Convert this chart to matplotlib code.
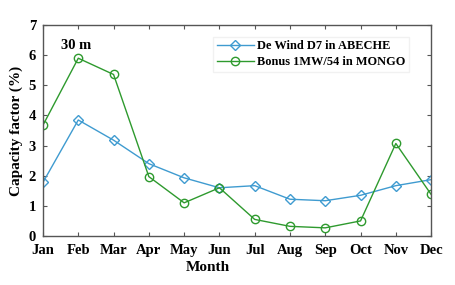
import matplotlib.pyplot as plt

months = ['Jan', 'Feb', 'Mar', 'Apr', 'May', 'Jun', 'Jul', 'Aug', 'Sep', 'Oct', 'Nov', 'Dec']
abeche = [1.78, 3.85, 3.18, 2.40, 1.93, 1.60, 1.67, 1.22, 1.17, 1.35, 1.67, 1.87]
mongo = [3.68, 5.90, 5.36, 1.97, 1.10, 1.60, 0.55, 0.32, 0.27, 0.50, 3.07, 1.38]

plt.rcParams['font.family'] = ['Liberation Serif', 'DejaVu Serif']
plt.rcParams['font.weight'] = 'bold'

fig = plt.figure(figsize=(4.55, 2.85), dpi=100)
ax = fig.add_axes([0.0945, 0.172, 0.853, 0.740])

x = list(range(1, 13))
ax.plot(x, abeche, color='#3f9bd0', lw=1.0, marker='D', ms=5.5, mfc='none',
        mew=1.0, label='De Wind D7 in ABECHE')
ax.plot(x, mongo, color='#2e9a2e', lw=1.0, marker='o', ms=6, mfc='none',
        mew=1.0, label='Bonus 1MW/54 in MONGO')

ax.set_xlim(1, 12)
ax.set_ylim(0, 7)
ax.set_xticks(x)
ax.set_xticklabels(months)
ax.set_yticks(range(0, 8))
ax.tick_params(direction='in', top=True, right=True, labelsize=10.5, length=3,
               color='#555555')
ax.tick_params(axis='x', pad=6)
ax.tick_params(axis='y', pad=5)
for lab in ax.get_xticklabels() + ax.get_yticklabels():
    lab.set_fontweight('bold')
for s in ax.spines.values():
    s.set_color('#555555')
    s.set_linewidth(1.0)

ax.set_xlabel('Month', fontsize=11, fontweight='bold')
ax.xaxis.set_label_coords(0.425, -0.12)
ax.set_ylabel('Capacity factor (%)', fontsize=11, fontweight='bold', labelpad=4)
ax.text(1.5, 6.2, '30 m', fontsize=10.5, fontweight='bold')

ax.legend(loc='upper right', bbox_to_anchor=(0.96, 0.975), frameon=True,
          fancybox=False, edgecolor='#eeeeee', handlelength=3.0,
          borderpad=0.3, labelspacing=0.3, handletextpad=0.3,
          prop={'weight': 'bold', 'size': 8.9})

fig.savefig('out.png', dpi=100)
